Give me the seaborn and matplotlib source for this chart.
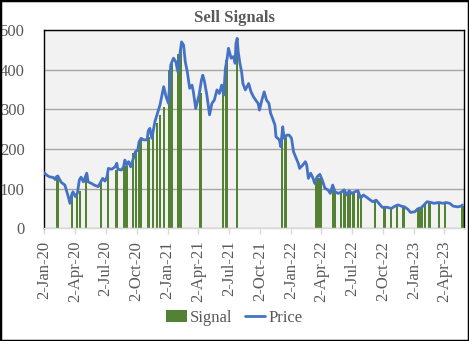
import matplotlib
matplotlib.use('Agg')
import matplotlib.pyplot as plt
from matplotlib.patches import Rectangle, Patch
from matplotlib.lines import Line2D
import seaborn as sns
import pandas as pd

price_dates = [
    '2020-01-02', '2020-01-09', '2020-01-17', '2020-01-29', '2020-02-03', '2020-02-07', '2020-02-11',
    '2020-02-21', '2020-03-03', '2020-03-13', '2020-03-18', '2020-03-23', '2020-03-27', '2020-04-03',
    '2020-04-09', '2020-04-15', '2020-04-20', '2020-04-27', '2020-05-07', '2020-05-11', '2020-05-21',
    '2020-05-29', '2020-06-10', '2020-06-15', '2020-06-23', '2020-06-30', '2020-07-06', '2020-07-10',
    '2020-07-20', '2020-07-30', '2020-08-04', '2020-08-07', '2020-08-18', '2020-08-24', '2020-08-28',
    '2020-09-02', '2020-09-08', '2020-09-14', '2020-09-22', '2020-09-28', '2020-10-05', '2020-10-09',
    '2020-10-15', '2020-10-22', '2020-11-02', '2020-11-05', '2020-11-10', '2020-11-16', '2020-11-25',
    '2020-12-04', '2020-12-10', '2020-12-21', '2020-12-28', '2021-01-04', '2021-01-11', '2021-01-19',
    '2021-01-26', '2021-02-01', '2021-02-08', '2021-02-12', '2021-02-18', '2021-02-23', '2021-03-01',
    '2021-03-08', '2021-03-15', '2021-03-19', '2021-03-26', '2021-04-05', '2021-04-12', '2021-04-16',
    '2021-04-21', '2021-04-28', '2021-05-06', '2021-05-13', '2021-05-20', '2021-05-28', '2021-06-04',
    '2021-06-11', '2021-06-17', '2021-06-22', '2021-06-28', '2021-07-01', '2021-07-09', '2021-07-16',
    '2021-07-21', '2021-07-23', '2021-07-27', '2021-07-30', '2021-08-04', '2021-08-09', '2021-08-13',
    '2021-08-20', '2021-08-30', '2021-09-06', '2021-09-13', '2021-09-20', '2021-09-27', '2021-10-01',
    '2021-10-08', '2021-10-15', '2021-10-22', '2021-10-29', '2021-11-03', '2021-11-09', '2021-11-16',
    '2021-11-19', '2021-11-29', '2021-12-03', '2021-12-09', '2021-12-13', '2021-12-21', '2021-12-28',
    '2022-01-04', '2022-01-10', '2022-01-18', '2022-01-24', '2022-01-28', '2022-02-07', '2022-02-14',
    '2022-02-18', '2022-02-23', '2022-03-02', '2022-03-09', '2022-03-14', '2022-03-21', '2022-03-29',
    '2022-04-05', '2022-04-13', '2022-04-22', '2022-04-29', '2022-05-06', '2022-05-13', '2022-05-23',
    '2022-06-02', '2022-06-09', '2022-06-17', '2022-06-24', '2022-07-01', '2022-07-11', '2022-07-20',
    '2022-07-28', '2022-08-05', '2022-08-12', '2022-08-23', '2022-09-02', '2022-09-12', '2022-09-20',
    '2022-09-30', '2022-10-14', '2022-10-27', '2022-11-07', '2022-11-16', '2022-11-25', '2022-12-05',
    '2022-12-15', '2022-12-23', '2023-01-05', '2023-01-13', '2023-01-24', '2023-02-03', '2023-02-10',
    '2023-02-22', '2023-03-03', '2023-03-17', '2023-03-29', '2023-04-07', '2023-04-18', '2023-04-28',
    '2023-05-12', '2023-05-22', '2023-05-26',
]
price_values = [
    140, 134, 130, 128, 123, 130, 132,
    116, 109, 80, 63, 84, 92, 80,
    88, 122, 129, 117, 139, 117, 113,
    109, 105, 113, 126, 119, 130, 151,
    149, 155, 164, 149, 147, 155, 172,
    160, 168, 155, 176, 193, 197, 218,
    227, 223, 223, 245, 252, 227, 269,
    294, 311, 357, 332, 315, 412, 429,
    420, 395, 445, 470, 462, 420, 395,
    353, 361, 344, 302, 336, 374, 386,
    370, 336, 286, 315, 323, 349, 340,
    361, 336, 403, 433, 454, 429, 433,
    416, 465, 479, 445, 416, 395, 365,
    349, 365, 344, 332, 323, 315, 298,
    323, 344, 323, 315, 290, 277, 260,
    231, 223, 206, 256, 227, 235, 235,
    227, 193, 176, 164, 151, 160, 168,
    160, 126, 139, 126, 113, 130, 136,
    122, 101, 97, 88, 109, 92, 88,
    92, 97, 84, 95, 88, 92, 95,
    76, 84, 80, 73, 67, 71, 63,
    53, 53, 50, 56, 59, 56, 54,
    48, 40, 42, 49, 52, 61, 67,
    65, 63, 65, 63, 65, 63, 56,
    54, 56, 59,
]

signal_dates = [
    '2020-02-10', '2020-03-23', '2020-04-09', '2020-04-16', '2020-05-04', '2020-06-17', '2020-07-09',
    '2020-08-03', '2020-08-26', '2020-09-02', '2020-09-21', '2020-10-01', '2020-10-08', '2020-10-15',
    '2020-11-06', '2020-11-20', '2020-12-01', '2020-12-10', '2020-12-21', '2021-01-07', '2021-01-14',
    '2021-02-03', '2021-02-10', '2021-04-09', '2021-06-14', '2021-06-25', '2021-07-27', '2021-12-08',
    '2021-12-17', '2022-03-18', '2022-03-25', '2022-04-01', '2022-05-06', '2022-05-13', '2022-05-31',
    '2022-06-10', '2022-06-20', '2022-06-27', '2022-07-07', '2022-07-19', '2022-07-29', '2022-09-09',
    '2022-10-07', '2022-10-27', '2022-11-14', '2022-12-02', '2023-01-13', '2023-01-20', '2023-01-27',
    '2023-02-03', '2023-02-17', '2023-03-17', '2023-04-03', '2023-05-26',
]
signal_values = [
    133, 92, 90, 95, 135, 115, 150,
    148, 165, 158, 190, 197, 215, 225,
    230, 250, 265, 285, 305, 400, 415,
    440, 455, 340, 340, 425, 478, 225,
    232, 120, 126, 130, 103, 92, 95,
    97, 88, 92, 88, 92, 84, 71,
    53, 50, 56, 54, 49, 51, 53,
    59, 63, 63, 63, 56,
]

tick_dates = ['2020-01-02', '2020-04-02', '2020-07-02', '2020-10-02', '2021-01-02', '2021-04-02',
              '2021-07-02', '2021-10-02', '2022-01-02', '2022-04-02', '2022-07-02', '2022-10-02',
              '2023-01-02', '2023-04-02']
y_ticks = [0, 100, 200, 300, 400, 500]

sns.set_theme(style='white')
plt.rcParams['font.family'] = ['Liberation Serif', 'DejaVu Serif']

W, H = 469, 341
fig = plt.figure(figsize=(W / 100, H / 100), dpi=100)
left, right, top, bottom = 44.3, 463.5, 30, 228.3
ax = fig.add_axes([left / W, 1 - bottom / H, (right - left) / W, (bottom - top) / H])
ax.set_facecolor('#F2F2F2')

df_price = pd.DataFrame({'Date': pd.to_datetime(price_dates), 'Price': price_values})
df_sig = pd.DataFrame({'Date': pd.to_datetime(signal_dates), 'Signal': signal_values})

ax.bar(df_sig['Date'], df_sig['Signal'], width=6.5, color='#548235', zorder=2, linewidth=0)
sns.lineplot(data=df_price, x='Date', y='Price', ax=ax, color='#4472C4', lw=2.0, zorder=3, legend=False)

x0 = pd.Timestamp('2020-01-02')
ax.set_xlim(x0, x0 + pd.Timedelta(days=1243))
ax.set_ylim(0, 500)
ax.set_yticks(y_ticks)
ax.set_yticklabels([str(v) for v in y_ticks])
ticks = pd.to_datetime(tick_dates)
ax.set_xticks(ticks)
ax.set_xticklabels([f"{d.day}-{d.strftime('%b-%y')}" for d in ticks], rotation=90, ha='center', va='top')
ax.set_xlabel('')
ax.set_ylabel('')

ax.yaxis.grid(True, color='#A6A6A6', lw=1.0, zorder=0)
ax.xaxis.grid(False)
ax.set_axisbelow(True)

ax.tick_params(axis='y', length=0, pad=14, labelcolor='#595959', labelsize=12)
ax.tick_params(axis='x', length=4, width=1, color='#D9D9D9', pad=5, labelcolor='#595959', labelsize=12,
               bottom=True)
for s in ['left', 'top', 'right']:
    ax.spines[s].set_color('black')
    ax.spines[s].set_linewidth(1.0)
ax.spines['bottom'].set_color('#D9D9D9')
ax.spines['bottom'].set_linewidth(1.0)

fig.text(0.5, 1 - 18 / H, 'Sell Signals', ha='center', va='center', fontsize=12, fontweight='bold',
         color='#595959')

handles = [Patch(facecolor='#548235', edgecolor='none', label='Signal'),
           Line2D([], [], color='#4472C4', lw=2.0, label='Price')]
fig.legend(handles=handles, loc='center', bbox_to_anchor=(0.5, 1 - 318 / H), ncol=2, frameon=False,
           fontsize=12, handlelength=1.25, handleheight=0.75, handletextpad=0.2, columnspacing=0.7,
           labelcolor='#595959', borderaxespad=0, borderpad=0)

fig.patches.append(Rectangle((0, 0), 1, 1, transform=fig.transFigure, fill=False, ec='black', lw=2.5))

fig.savefig('out.png', dpi=100, facecolor='white')
